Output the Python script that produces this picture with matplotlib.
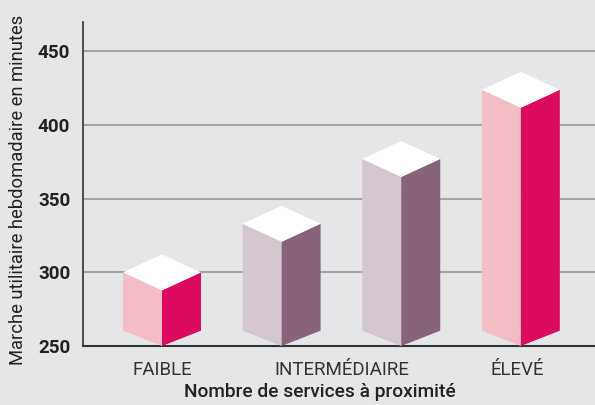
import matplotlib
matplotlib.use('Agg')
import matplotlib.pyplot as plt

# données
categories = ['FAIBLE', 'INTERMÉDIAIRE', 'ÉLEVÉ']
valeurs = [300, 333, 377, 424]          # minutes par semaine
groupe = [0, 1, 1, 2]                   # catégorie de chaque barre
y_ticks = [250, 300, 350, 400, 450]

# couleurs (face claire, face foncée)
couleurs = {
    0: ('#f4bdc5', '#dc0b5f'),
    1: ('#d4c6ce', '#876479'),
    2: ('#f4bdc5', '#dc0b5f'),
}
FOND = '#e5e6e8'

plt.rcParams['font.family'] = ['Roboto', 'DejaVu Sans']

fig = plt.figure(figsize=(5.95, 4.05), dpi=100)
fig.patch.set_facecolor(FOND)
W, H = 595, 405
ax = fig.add_axes([82.7 / W, (H - 346) / H, (W - 82.7) / W, (346 - 22) / H])
ax.set_facecolor(FOND)

base = 250
demi = 0.326      # demi-largeur d'une barre
dt = 12.2         # décalage iso du dessus
db = 10.4         # décalage iso du bas

for i, (v, g) in enumerate(zip(valeurs, groupe)):
    clair, fonce = couleurs[g]
    x = i
    ax.fill([x - demi, x, x, x - demi], [base + db, base, v - dt, v],
            color=clair, lw=0, zorder=3)
    ax.fill([x, x + demi, x + demi, x], [base, base + db, v, v - dt],
            color=fonce, lw=0, zorder=3)
    ax.fill([x - demi, x, x + demi, x], [v, v - dt, v, v + dt],
            color='white', lw=0, zorder=3)

# positions des libellés : centre des barres de chaque catégorie
pos = []
for k in range(len(categories)):
    idx = [i for i, g in enumerate(groupe) if g == k]
    pos.append(sum(idx) / len(idx))
pos[-1] -= 0.03

ax.set_xlim(-0.663, 3.62)
ax.set_ylim(250, 470)
ax.set_yticks(y_ticks)
ax.set_yticklabels([str(t) for t in y_ticks], fontsize=13.5, fontweight='bold', color='#222222')
ax.set_xticks(pos)
ax.set_xticklabels(categories, fontsize=13.5, fontweight='normal', color='#333333')
ax.tick_params(axis='both', length=0)
ax.tick_params(axis='x', pad=11)
ax.tick_params(axis='y', pad=9)

for t in y_ticks[1:]:
    ax.axhline(t, color='#a5a5a5', lw=1.5, zorder=1)

for s in ['top', 'right']:
    ax.spines[s].set_visible(False)
ax.spines['left'].set_color('#333333')
ax.spines['bottom'].set_color('#333333')
ax.spines['left'].set_linewidth(1.2)
ax.spines['bottom'].set_linewidth(1.5)

fig.text(18 / W, 1 - 190 / H, 'Marche utilitaire hebdomadaire en minutes',
         rotation=90, ha='center', va='center', fontsize=13.2, color='#222222')
fig.text(320 / W, 1 - 392 / H, 'Nombre de services à proximité',
         ha='center', va='center', fontsize=13.8, fontweight='medium', color='#222222')

fig.savefig('out.png', dpi=100, facecolor=FOND)
